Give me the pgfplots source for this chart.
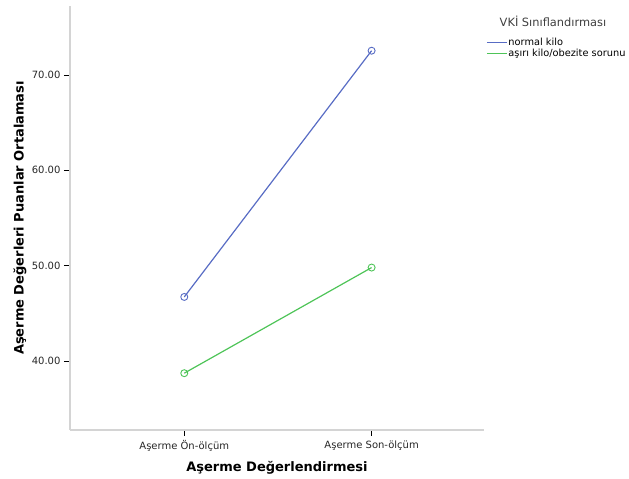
\documentclass[border=0pt]{standalone}
\usepackage{fontspec}
\setmainfont{DejaVu Sans}
\usepackage{pgfplots}
\pgfplotsset{compat=1.18}
\definecolor{spssblue}{RGB}{88,108,196}
\definecolor{spssgreen}{RGB}{78,196,88}
\definecolor{axgray}{RGB}{212,212,212}
\begin{document}
\begin{tikzpicture}[x=1pt,y=1pt]
\path[use as bounding box] (0,0) rectangle (629,479);
\begin{axis}[
  at={(70pt,49pt)}, anchor=south west,
  scale only axis, width=414pt, height=424pt,
  xmin=-0.61, xmax=1.60, ymin=32.76, ymax=77.24,
  axis x line*=bottom, axis y line*=left,
  axis line style={-, draw=axgray, line width=2pt},
  xtick={0,1}, xticklabels={Aşerme Ön-ölçüm, Aşerme Son-ölçüm},
  ytick={40,50,60,70},
  tick align=outside, major tick length=6pt,
  tick style={black, line width=0.8pt},
  /pgf/number format/assume math mode=true,
  yticklabel={\pgfmathprintnumber[fixed,fixed zerofill,precision=2]{\tick}},
  tick label style={font=\fontsize{10}{12}\selectfont, text=black!85},
  xticklabel style={yshift=-1pt},
  xlabel={Aşerme Değerlendirmesi},
  ylabel={Aşerme Değerleri Puanlar Ortalaması},
  label style={font=\bfseries\fontsize{13}{15}\selectfont},
  xlabel style={at={(axis description cs:0.5,-0.0896)}, anchor=center},
  ylabel style={at={(axis description cs:-0.1208,0.5)}, anchor=center, rotate=0},
  legend style={at={(rel axis cs:1.005,0.928)}, anchor=north west, draw=none, fill=none,
    font=\fontsize{9.8}{10}\selectfont, row sep=0.6pt, inner sep=0pt,
    nodes={inner sep=1pt}},
  legend cell align=left,
  legend image code/.code={\draw[#1] (0pt,0pt) -- (20pt,0pt);},
  clip=false,
]
\addplot[spssblue, line width=1.2pt, mark=o, mark size=3.5pt, mark options={line width=0.9pt}]
  coordinates {(0,46.72) (1,72.55)};
\addlegendentry{normal kilo}
\addplot[spssgreen, line width=1.2pt, mark=o, mark size=3.5pt, mark options={line width=0.9pt}]
  coordinates {(0,38.72) (1,49.80)};
\addlegendentry{aşırı kilo/obezite sorunu}
\end{axis}
\node[font=\fontsize{11.4}{13}\selectfont, text=black!75, anchor=center] at (553,458) {VKİ Sınıflandırması};
\end{tikzpicture}
\end{document}
